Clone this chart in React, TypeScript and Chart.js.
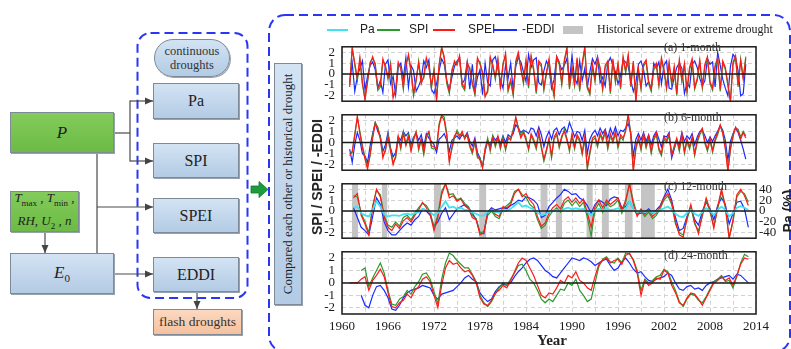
import React, { useEffect, useRef } from "react";
import { Chart, registerables } from "chart.js";

Chart.register(...registerables);

// ---------- axis values ----------
const YEAR_MIN = 1960;
const YEAR_MAX = 2014;
const yearTickLabels = [1960, 1966, 1972, 1978, 1984, 1990, 1996, 2002, 2008, 2014];
const yearGridLines = [1960, 1963, 1966, 1969, 1972, 1975, 1978, 1981, 1984, 1987, 1990, 1993, 1996, 1999, 2002, 2005, 2008, 2011, 2014];
const indexTicks = [-2, -1, 0, 1, 2];
const paTicks = [-40, -20, 0, 20, 40];

// ---------- historical severe or extreme droughts (years) ----------
const droughtStart = [1961.3, 1965.2, 1972.0, 1977.9, 1985.9, 1987.9, 1991.9, 1993.9, 1996.9, 1999.0];
const droughtEnd = [1962.1, 1965.9, 1972.9, 1978.8, 1986.8, 1988.7, 1992.7, 1994.8, 1997.9, 2000.8];

// ---------- (a) 1-month: 3 samples / year from 1961.0 ----------
const start1 = 1961;
const step1 = 1 / 3;
const spei1 = [
  -1.2, 2.3, 1.0, -0.4, 1.5, -0.8, -2.4, -0.6, 0.9, 1.6, 0.8, -1.3, -1.0, 1.4, 0.6,
  -0.3, 0.8, -2.2, -1.4, 1.1, 0.5, -1.2, 0.7, 1.8, 0.4, -1.8, -0.5, 1.0, -0.9, -0.2,
  1.5, 0.6, -1.1, 0.3, -2.5, 0.9, 2.4, 1.6, -0.7, -1.6, 0.2, 1.2, 0.8, 1.7, -0.9,
  -1.3, 1.1, 0.4, -0.8, -1.7, 1.5, 0.9, 0.2, -2.1, -1.5, 1.6, 0.7, -0.3, 1.4, -1.2,
  0.8, 1.9, -1.4, -0.5, -1.8, 1.2, 2.0, 0.4, -0.7, 1.3, -1.1, 1.7, 0.5, -1.6, 1.2,
  0.9, -1.3, 0.2, 1.4, -0.6, -1.9, 1.6, 1.1, -0.8, 1.3, 2.3, -1.2, 0.7, -0.9, 1.5,
  -1.4, 1.0, 2.5, -1.1, -1.7, 0.9, -0.5, 1.5, 0.6, -1.3, 0.8, 1.2, -1.6, 1.4, -0.6,
  1.0, -1.2, 1.6, 0.3, 1.8, -1.0, 1.2, -2.6, 0.5, -1.2, 0.9, 1.3, -0.7, -1.4, 0.6,
  1.0, -0.9, 1.5, 0.4, -1.2, 1.1, -0.8, 0.7, -1.8, 1.3, -0.5, 1.0, -1.5, 0.6, 1.4,
  -1.2, -0.4, 1.3, -1.1, 0.9, 1.6, -0.7, -1.3, 0.8, 1.5, -1.4, 1.2, 0.6, -0.9, -2.6,
  1.1, 1.7, -1.0, 1.2, -0.5, 1.4,
];
const spi1 = [
  -1.0, 2.5, 0.8, -0.6, 1.3, -1.0, -2.2, -0.8, 1.1, 1.4, 1.0, -1.5, -1.2, 1.2, 0.8,
  -0.5, 1.0, -2.0, -1.6, 0.9, 0.7, -1.4, 0.9, 1.6, 0.2, -2.0, -0.7, 1.2, -0.7, -0.4,
  1.3, 0.8, -1.3, 0.5, -2.3, 0.7, 2.5, 1.4, -0.9, -1.8, 0.4, 1.0, 1.0, 1.5, -1.1,
  -1.5, 0.9, 0.6, -1.0, -1.9, 1.3, 1.1, 0.0, -2.0, -1.7, 1.4, 0.9, -0.5, 1.2, -1.4,
  1.0, 1.7, -1.6, -0.7, -2.0, 1.0, 1.8, 0.6, -0.9, 1.1, -1.3, 1.5, 0.3, -1.8, 1.0,
  0.7, -1.5, 0.0, 1.2, -0.8, -2.1, 1.4, 0.9, -1.0, 1.1, 2.5, -1.4, 0.5, -1.1, 1.3,
  -1.6, 0.8, 2.3, -1.3, -1.9, 0.7, -0.7, 1.3, 0.4, -1.5, 0.6, 1.0, -1.8, 1.2, -0.8,
  0.8, -1.4, 1.4, 0.1, 1.6, -1.2, 1.0, -2.4, 0.3, -1.4, 0.7, 1.1, -0.9, -1.6, 0.4,
  0.8, -1.1, 1.3, 0.2, -1.4, 0.9, -1.0, 0.5, -2.0, 1.1, -0.7, 0.8, -1.7, 0.4, 1.2,
  -1.4, -0.6, 1.1, -1.3, 0.7, 1.4, -0.9, -1.5, 0.6, 1.3, -1.6, 1.0, 0.4, -1.1, -2.4,
  0.9, 1.5, -1.2, 1.4, -0.3, 1.6,
];
const eddi1 = [
  -0.8, 1.0, -1.6, -0.2, 0.5, 1.2, -1.5, -0.2, 0.8, 1.1, 0.4, -1.3, -0.6, -1.7, 0.9,
  1.3, -0.9, -0.2, -1.9, 0.6, 1.0, -0.4, 1.5, -1.2, 0.8, 0.3, -1.6, -1.1, -0.5, 1.2,
  0.6, 1.3, -1.4, -1.8, -0.9, 0.3, 1.4, 0.9, -0.6, -1.5, -0.3, 0.7, 1.2, 1.5, -0.9,
  -0.5, 1.1, -1.4, 0.9, -1.7, -0.3, 0.4, -1.9, 1.0, -0.8, -1.1, 1.3, 1.6, 0.5, -0.6,
  -1.3, 0.8, -0.4, 1.0, -1.5, 0.7, 1.5, 1.1, 0.2, -0.7, 1.8, 0.6, 1.3, 1.5, -0.8,
  -1.0, 0.3, 1.2, 0.7, -1.3, -0.5, 1.6, 1.0, 0.4, 0.8, 1.4, -0.7, 1.7, -0.4, -0.9,
  1.2, -0.6, 0.5, -1.2, 0.2, 1.4, 0.9, 1.6, -0.8, -0.3, -1.1, 1.0, 1.5, 0.8, 0.2,
  -0.9, -0.2, 1.3, 1.1, 0.7, -0.6, -1.6, -0.8, 0.9, 1.2, 0.4, -1.1, -0.7, -1.4, 1.0,
  0.5, 1.1, -0.9, 0.8, 1.2, -1.3, -1.4, -0.3, 0.6, 1.0, 0.5, -1.8, -0.8, -1.2, 0.9,
  1.2, 0.6, -0.4, -1.1, -0.6, 1.4, 0.9, 1.1, -1.2, 2.0, 0.8, -0.5, -1.3, -2.0, 0.7,
  1.8, 1.5, 0.3, -2.0, -1.8, 0.9,
];

// ---------- (b) 6-month: 3 samples / year from 1961.0 ----------
const start6 = 1961;
const step6 = 1 / 3;
const spei6 = [
  -1.2, -0.8, 0.6, 2.4, 0.8, -0.5, -1.5, -2.4, -1.0, 0.4, 1.7, 1.2, 0.3, -1.4, -0.6,
  0.5, -0.8, -2.0, -1.2, 0.6, -0.4, 0.8, -0.3, 0.5, -0.8, 0.2, 0.9, -0.5, 0.4, -0.9,
  0.6, 1.0, -0.3, -0.4, -0.6, 1.5, 2.4, 2.0, 0.6, -1.8, -0.4, 0.6, 0.9, 0.5, 1.0,
  0.3, 0.8, -0.2, -0.8, 0.2, -1.2, -1.6, -2.3, -0.5, 0.2, -0.6, 0.4, -0.2, 0.6, -0.4,
  0.3, -0.5, 0.5, 0.2, 1.0, 2.3, 1.2, 0.4, 0.9, 0.2, -0.5, 0.8, 0.3, -0.4, 1.0,
  -0.3, -1.5, -0.6, 0.4, -1.2, 0.5, 0.9, -0.3, 0.6, 1.0, 0.2, -0.6, 0.8, -0.4, 0.7,
  0.3, -0.9, 0.5, -2.2, -0.8, 0.4, 0.6, -0.2, 0.9, 0.3, 1.1, -0.4, 0.8, 0.2, 1.0,
  -0.3, 0.7, 0.4, 1.0, 2.5, 0.6, -2.6, -0.4, 0.5, -0.5, 0.8, -0.3, 0.6, -0.8, 0.4,
  0.9, -0.5, -1.0, 0.5, 0.2, 0.8, -1.2, -0.3, 0.4, -0.6, 0.8, -0.8, 0.3, -0.4, 0.5,
  -1.0, 0.2, 0.9, 1.3, 0.1, -0.6, 0.4, -0.7, 0.3, 0.9, 1.6, 0.8, -0.6, -2.6, -0.5,
  0.5, 1.4, 1.0, 0.3, 0.9, 0.4,
];
const spi6 = [
  -1.0, -0.9, 0.8, 2.2, 1.0, -0.3, -1.3, -2.2, -1.2, 0.6, 1.8, 1.4, 0.5, -1.2, -0.8,
  0.7, -0.6, -1.8, -1.4, 0.4, -0.6, 1.0, -0.1, 0.7, -0.6, 0.4, 1.0, -0.7, 0.2, -1.1,
  0.4, 0.9, -0.5, -0.6, -0.4, 1.7, 2.5, 2.3, 0.8, -1.6, -0.6, 0.4, 1.1, 0.7, 0.8,
  0.5, 0.6, -0.4, -1.0, 0.0, -1.4, -1.4, -2.1, -0.7, 0.4, -0.8, 0.6, -0.4, 0.4, -0.6,
  0.5, -0.7, 0.3, 0.4, 1.2, 2.2, 1.4, 0.6, 1.1, 0.4, -0.7, 0.6, 0.1, -0.6, 0.8,
  -0.5, -1.7, -0.8, 0.2, -1.4, 0.3, 0.7, -0.5, 0.4, 1.2, 0.4, -0.8, 0.6, -0.6, 0.5,
  0.1, -1.1, 0.3, -2.4, -1.0, 0.2, 0.4, -0.4, 0.7, 0.1, 0.9, -0.6, 0.6, 0.0, 0.8,
  -0.5, 0.5, 0.2, 1.2, 2.5, 0.8, -2.4, -0.6, 0.3, -0.7, 0.6, -0.5, 0.4, -1.0, 0.2,
  0.7, -0.7, -1.2, 0.3, 0.0, 0.6, -1.0, -0.5, 0.2, -0.8, 0.6, -1.0, 0.1, -0.6, 0.3,
  -1.2, 0.0, 0.7, 1.1, -0.1, -0.8, 0.2, -0.9, 0.1, 0.7, 1.5, 0.9, -0.4, -2.5, -0.7,
  0.7, 1.3, 1.2, 0.5, 1.0, 0.6,
];
const eddi6 = [
  -0.6, -1.8, -0.2, 0.9, 0.2, -1.0, -1.2, -1.8, -0.3, 0.8, 1.8, 1.0, 0.6, -0.8, -0.2,
  0.9, -0.5, -1.3, -0.9, 0.5, 0.2, 1.0, 0.6, 0.9, -0.2, 0.5, 0.8, 0.2, 0.7, -0.4,
  0.8, 0.4, 0.1, -0.2, -0.9, 0.3, 0.5, 0.8, 0.2, -0.8, 0.2, 0.4, 0.6, 0.3, 0.7,
  0.5, 0.9, 0.1, -0.3, 0.4, -0.9, -1.4, -2.2, -0.8, 0.1, -0.3, 0.6, 0.2, 0.5, -0.1,
  0.6, 0.0, 0.7, 0.5, 0.8, 1.6, 1.3, 0.9, 1.1, 1.0, 0.8, 1.3, 1.2, 0.6, 1.4,
  0.7, -0.4, 0.5, 1.0, 0.3, 1.1, 1.3, 0.7, 1.2, 1.4, 0.9, 1.8, 1.2, 0.5, 1.0,
  0.9, 0.2, 1.1, -1.0, 0.3, 0.8, 1.1, 0.6, 1.3, 0.8, 1.2, 0.4, 1.3, 0.7, 1.4,
  0.6, 1.1, 1.0, 1.3, 1.7, 0.9, -1.2, 0.3, 0.8, 0.2, 0.9, 0.1, 0.7, -0.2, 0.6,
  1.0, 0.3, -0.4, 0.6, 0.5, 0.9, -1.4, -0.6, 0.2, -0.2, 0.9, 0.1, 0.6, 0.3, 0.8,
  -0.2, 0.5, 1.0, 1.1, 0.6, 0.0, 0.5, 0.1, 0.6, 1.0, 1.5, 1.1, 0.2, -1.6, 0.1,
  0.8, 1.3, 0.9, 0.2, -0.6, -1.5,
];

// ---------- (c) 12-month: 2 samples / year from 1961.0 ----------
const start12 = 1961;
const step12 = 0.5;
const spei12 = [
  null, 1.2, 1.6, -0.4, -1.2, -2.2, 0.3, 2.0, 1.3, -0.6, -1.5, -1.8, -1.2, -1.6,
  -0.9, -0.6, -1.0, -0.4, 0.1, 0.8, 0.3, -0.3, -1.8, -0.6, 1.5, 2.5, 1.2, 1.4,
  0.9, 1.1, 0.5, 0.2, -0.6, -0.8, -2.2, -2.0, -0.2, 0.2, -0.3, -0.5, 0.4, 0.3,
  0.6, 1.6, 2.0, 1.3, 1.6, 1.0, 0.6, -0.5, -1.4, -1.1, -0.2, 0.3, 0.6, 0.2,
  1.0, 1.3, 0.8, 1.2, 0.7, 1.1, -0.2, -1.5, 0.4, 1.0, 0.3, 1.0, 0.6, 0.9,
  1.2, 0.1, 1.0, 2.5, 0.6, -0.5, 0.2, -0.3, 0.1, -0.5, -0.2, 0.4, 1.2, 1.6,
  0.8, -1.0, -2.2, -2.4, -0.6, 0.6, -1.0, -2.1, -0.3, 1.2, 0.1, -1.6, 0.4, 2.0,
  0.5, -2.5, -0.8, 1.5, 2.0, 1.4, 0.5,
];
const spi12 = [
  null, 1.4, 1.3, -0.2, -1.0, -2.0, 0.5, 1.9, 1.5, -0.4, -1.3, -1.5, -1.0, -1.4,
  -0.6, -0.4, -0.8, -0.2, 0.3, 0.7, 0.5, -0.1, -1.5, -0.4, 1.8, 2.5, 1.5, 1.6,
  1.0, 1.2, 0.7, 0.4, -0.4, -0.7, -2.0, -1.9, -0.4, 0.0, -0.5, -0.7, 0.2, 0.5,
  0.8, 1.8, 2.0, 1.5, 1.3, 0.6, 0.3, -0.8, -1.6, -1.3, -0.5, 0.0, 0.3, -0.1,
  0.7, 1.0, 0.5, 0.9, 0.4, 0.8, -0.6, -2.3, 0.1, 0.7, -0.1, 0.8, 0.4, 0.6,
  1.0, -0.2, 0.8, 2.5, 0.9, -0.3, 0.0, -0.5, -0.1, -0.7, -0.4, 0.2, 1.0, 1.4,
  0.6, -1.2, -2.0, -2.2, -0.8, 0.4, -1.2, -1.8, -0.5, 1.0, -0.1, -1.4, 0.2, 1.8,
  0.3, -2.5, -1.0, 1.3, 1.8, 1.6, 0.8,
];
const eddi12 = [
  null, 0.3, -0.6, -1.5, -1.8, -2.2, -0.5, 1.2, 0.6, -1.0, -1.8, -2.2, -2.2, -1.8,
  -1.4, -1.1, -1.3, -0.8, -0.5, 0.2, 0.0, -0.4, -1.4, -1.0, -0.2, 0.3, -0.8, -0.3,
  0.2, 0.4, 0.6, 0.3, -0.2, -0.8, -2.0, -2.1, -0.1, 0.3, 0.1, 0.2, 0.3, 0.2,
  0.5, 0.7, 1.0, 0.9, 1.3, 1.2, 1.0, 0.6, -0.6, -0.4, 0.4, 0.8, 1.2, 1.5,
  2.0, 1.8, 1.5, 1.6, 1.2, 1.0, 0.5, -0.2, 0.6, 1.0, 0.8, 0.5, 1.1, 1.3,
  1.2, 0.3, 0.4, 0.9, 0.2, -0.3, -0.2, -0.1, 0.2, -0.2, 0.1, 0.5, 1.3, 2.0,
  1.0, -0.6, -1.8, -1.6, -0.5, 0.3, -0.8, -1.3, 0.0, 0.8, 0.2, -0.8, 0.5, 1.2,
  0.6, -1.2, -0.2, 0.8, 0.9, 0.2, -1.5,
];
const pa12 = [
  null, 6, 8, -4, -8, -10, 2, 18, 8, -6, -10, -8, -8, -9,
  -6, -5, -7, -4, -2, 4, 2, -2, -8, -4, 8, 18, 6, 8,
  4, 6, 2, 1, -3, -5, -9, -8, -2, 1, -2, -3, 2, 1,
  4, 10, 16, 8, 10, 6, 3, -3, -8, -6, -2, 1, 2, 0,
  4, 6, 3, 5, 3, 4, -2, -8, 1, 4, 1, 4, 2, 3,
  5, 0, 4, 18, 4, -2, 0, -2, 0, -3, -1, 2, 5, 8,
  3, -5, -10, -11, -4, 2, -5, -9, -2, 5, 0, -7, 2, 8,
  2, -10, -4, 6, 9, 6, 2,
];

// ---------- (d) 24-month: 2 samples / year from 1961.0 ----------
const start24 = 1961;
const step24 = 0.5;
const spei24 = [
  0, 0, 0, 0.3, 0.5, -0.6, 0.2, 0.6, 1.1, 0.5, -0.8, -1.9, -2.0, -1.6,
  -1.4, -0.9, -1.2, -0.6, -0.3, 0.3, 0.5, 0.1, -1.0, -2.0, -0.2, 1.2, 1.8, 1.5,
  1.6, 1.2, 0.9, 1.0, 0.6, 0.0, -1.2, -1.7, -1.8, -1.4, -0.8, -0.6, -0.2, -0.4,
  0.2, 0.9, 1.6, 2.0, 1.8, 1.2, 0.6, -0.2, -1.0, -1.2, -0.8, -0.9, -0.4, 0.2,
  0.0, 0.6, 0.4, 0.9, 0.2, 0.0, -0.4, -0.6, 0.5, 1.5, 1.8, 2.0, 1.6, 1.8,
  1.9, 1.5, 2.2, 2.4, 1.8, 0.8, -1.0, 0.2, -0.2, 0.0, 0.4, 0.3, 1.0, 0.8,
  -0.2, -0.8, -1.6, -1.8, -1.2, -0.8, -0.9, -1.3, -1.8, -1.2, -0.6, 0.0, 0.2, 0.5,
  0.2, 0.4, -0.2, 0.6, 1.5, 2.0, 1.9,
];
const spi24 = [
  null, null, null, 1.0, 1.2, -0.3, 0.4, 1.0, 1.6, 0.8, -0.6, -1.7, -1.8, -1.3,
  -1.1, -0.6, -0.9, -0.3, 0.1, 0.7, 0.8, 0.3, -0.7, -1.7, 0.3, 1.6, 2.4, 2.2,
  1.8, 1.5, 1.2, 1.2, 0.7, 0.1, -1.0, -1.6, -1.9, -1.5, -0.9, -0.4, 0.0, -0.2,
  0.3, 0.8, 1.4, 1.5, 1.0, 0.3, 0.0, -0.6, -1.3, -1.6, -1.3, -1.5, -1.0, -0.5,
  -0.6, 0.0, -0.2, 0.3, -0.6, -1.0, -1.5, -1.3, 0.0, 1.3, 1.9, 2.1, 1.7, 1.6,
  2.0, 1.6, 2.4, 2.3, 1.9, 1.0, -0.6, 0.3, 0.0, 0.2, 0.5, 0.6, 1.1, 0.9,
  0.1, -0.6, -1.5, -1.9, -1.3, -0.9, -1.0, -1.4, -1.6, -1.1, -0.5, 0.1, 0.3, 0.6,
  0.1, 0.2, -0.4, 0.5, 1.6, 2.3, 2.1,
];
const eddi24 = [
  null, null, null, -1.0, -1.8, -2.0, -1.0, -0.3, -0.2, -0.6, -1.2, -2.1, -2.2, -1.8,
  -1.2, -0.8, -0.6, -0.5, -0.4, -0.2, -0.3, -0.4, -1.0, -1.3, -0.9, -0.8, -0.7, -0.6,
  -0.3, 0.0, 0.4, 0.6, 0.3, 0.1, -0.8, -1.2, -1.5, -1.3, -0.7, -0.3, -0.1, -0.2,
  0.0, 0.5, 0.9, 1.2, 1.6, 1.9, 2.0, 1.8, 1.4, 1.0, 0.8, 0.5, 0.4, 0.8,
  1.2, 1.6, 2.0, 1.9, 1.8, 2.0, 1.9, 1.7, 1.4, 1.6, 1.8, 1.9, 1.4, 1.0,
  1.2, 1.7, 2.0, 1.6, 1.1, 0.8, 0.9, 0.5, 0.2, 0.1, 0.3, 0.4, 0.5, 0.8,
  0.6, 0.0, -0.5, -0.6, -0.3, -0.2, -0.5, -0.4, -0.6, -0.2, 0.0, 0.1, 0.3, 0.4,
  0.5, 0.6, 0.3, 0.7, 0.6, 0.3, 0.0,
];

// ---------- styling ----------
const SERIF = "'Liberation Serif', 'Times New Roman', serif";
const SANS = "'Liberation Sans', Arial, sans-serif";
const CYAN = "#3fe3f0";
const GREEN = "#2c992c";
const RED = "#ff1a1a";
const BLUE = "#1a2bff";
const GRID = "#d2d2d2";

const PANEL_TOP = [40, 108, 177, 245];
const PANEL_H = [68, 69, 68, 69];
const PAD = 8;
const CANVAS_LEFT = 300;
const CANVAS_W = 491;

type Panel = {
  label: string;
  start: number;
  step: number;
  spi: (number | null)[];
  spei: (number | null)[];
  eddi: (number | null)[];
  pa?: (number | null)[];
};

const panels: Panel[] = [
  { label: "(a) 1-month", start: start1, step: step1, spi: spi1, spei: spei1, eddi: eddi1 },
  { label: "(b) 6-month", start: start6, step: step6, spi: spi6, spei: spei6, eddi: eddi6 },
  { label: "(c) 12-month", start: start12, step: step12, spi: spi12, spei: spei12, eddi: eddi12, pa: pa12 },
  { label: "(d) 24-month", start: start24, step: step24, spi: spi24, spei: spei24, eddi: eddi24 },
];

const series = (start: number, step: number, vals: (number | null)[]) =>
  vals.map((v, i) => ({ x: start + i * step, y: v }));

const decorPlugin = {
  id: "decor",
  beforeDatasetsDraw(chart: any, _args: any, opts: any) {
    const { ctx, chartArea: a, scales } = chart;
    if (opts && opts.bars) {
      ctx.save();
      ctx.fillStyle = "#c4c4c4";
      droughtStart.forEach((s, i) => {
        const x1 = scales.x.getPixelForValue(s);
        const x2 = scales.x.getPixelForValue(droughtEnd[i]);
        ctx.fillRect(x1, a.top, x2 - x1, a.bottom - a.top);
      });
      ctx.restore();
    }
  },
  afterDatasetsDraw(chart: any) {
    const { ctx, chartArea: a, scales } = chart;
    const y0 = scales.y.getPixelForValue(0);
    ctx.save();
    ctx.strokeStyle = "#1a1a1a";
    ctx.lineWidth = 1.5;
    ctx.beginPath();
    ctx.moveTo(a.left, y0);
    ctx.lineTo(a.right, y0);
    ctx.stroke();
    ctx.restore();
  },
  afterDraw(chart: any) {
    const { ctx, chartArea: a } = chart;
    ctx.save();
    ctx.strokeStyle = "#1a1a1a";
    ctx.lineWidth = 1.5;
    ctx.strokeRect(a.left, a.top, a.right - a.left, a.bottom - a.top);
    ctx.restore();
  },
};

function makeConfig(p: Panel, idx: number): any {
  const isLast = idx === panels.length - 1;
  const hasPa = !!p.pa;
  const datasets: any[] = [];
  if (p.pa) {
    datasets.push({ label: "Pa", data: series(p.start, p.step, p.pa), borderColor: CYAN, borderWidth: 1.8, yAxisID: "y2" });
  }
  datasets.push({ label: "SPEI", data: series(p.start, p.step, p.spei), borderColor: RED, borderWidth: 1.2, yAxisID: "y" });
  datasets.push({ label: "SPI", data: series(p.start, p.step, p.spi), borderColor: GREEN, borderWidth: 1.2, yAxisID: "y" });
  datasets.push({ label: "-EDDI", data: series(p.start, p.step, p.eddi), borderColor: BLUE, borderWidth: 1.2, yAxisID: "y" });

  const tickFont = { family: SERIF, size: 13 };
  const scales: any = {
    x: {
      type: "linear",
      min: YEAR_MIN,
      max: YEAR_MAX,
      afterBuildTicks: (s: any) => {
        s.ticks = yearGridLines.map((v) => ({ value: v }));
      },
      afterFit: (s: any) => {
        s.height = isLast ? 30 : 0;
      },
      ticks: {
        display: isLast,
        autoSkip: false,
        maxRotation: 0,
        padding: 5,
        font: tickFont,
        color: "#1a1a1a",
        callback: (v: any) => (yearTickLabels.includes(Number(v)) ? String(v) : ""),
      },
      grid: { color: GRID, lineWidth: 1, drawTicks: false },
      border: { display: false, dash: [4, 3] },
    },
    y: {
      position: "left",
      min: -2.5,
      max: 2.5,
      afterBuildTicks: (s: any) => {
        s.ticks = indexTicks.map((v) => ({ value: v }));
      },
      afterFit: (s: any) => {
        s.width = 42;
      },
      ticks: { font: tickFont, color: "#1a1a1a", padding: 7, autoSkip: false },
      grid: { color: GRID, lineWidth: 1, drawTicks: false },
      border: { display: false, dash: [4, 3] },
    },
  };
  if (hasPa) {
    scales.y2 = {
      position: "right",
      min: -50,
      max: 50,
      afterBuildTicks: (s: any) => {
        s.ticks = paTicks.map((v) => ({ value: v }));
      },
      afterFit: (s: any) => {
        s.width = 35;
      },
      ticks: { font: tickFont, color: "#1a1a1a", padding: 3, autoSkip: false },
      grid: { display: false, drawTicks: false },
      border: { display: false },
    };
  }

  return {
    type: "line",
    data: { datasets },
    plugins: [decorPlugin],
    options: {
      animation: false,
      responsive: false,
      maintainAspectRatio: false,
      layout: { padding: { top: PAD, bottom: isLast ? 0 : PAD, left: 0, right: hasPa ? 0 : 35 } },
      elements: { point: { radius: 0 }, line: { tension: 0, fill: false } },
      plugins: {
        legend: { display: false },
        tooltip: { enabled: false },
        decor: { bars: hasPa },
      },
      scales,
    },
  };
}

const ChartPanel = ({ p, idx }: { p: Panel; idx: number }) => {
  const ref = useRef<HTMLCanvasElement | null>(null);
  const isLast = idx === panels.length - 1;
  const h = PANEL_H[idx] + PAD + (isLast ? 30 : PAD);
  useEffect(() => {
    if (!ref.current) return;
    const chart = new Chart(ref.current, makeConfig(p, idx));
    return () => chart.destroy();
  }, []);
  return (
    <canvas
      ref={ref}
      width={CANVAS_W}
      height={h}
      style={{ position: "absolute", left: CANVAS_LEFT, top: PANEL_TOP[idx] - PAD, width: CANVAS_W, height: h }}
    />
  );
};

const BLUE_BOX = "linear-gradient(180deg, #d3e3f3 0%, #b3cbe5 100%)";
const GREEN_BOX = "linear-gradient(180deg, #84cb5b 0%, #6cbb45 100%)";
const PEACH_BOX = "linear-gradient(180deg, #fbd9c0 0%, #f5c19f 100%)";

const Box = (props: any) => {
  const { left, top, w, h, bg, radius = 0, children, style } = props;
  return (
    <div
      style={{
        position: "absolute",
        left,
        top,
        width: w,
        height: h,
        boxSizing: "border-box",
        background: bg,
        border: "1px solid #7e8a98",
        borderRadius: radius,
        boxShadow: "1px 1px 0 #98a2ad",
        display: "flex",
        alignItems: "center",
        justifyContent: "center",
        textAlign: "center",
        fontFamily: SERIF,
        color: "#222",
        ...style,
      }}
    >
      {children}
    </div>
  );
};

const Txt = (props: any) => {
  const { left, top, children, style } = props;
  return (
    <div style={{ position: "absolute", left, top, whiteSpace: "nowrap", ...style }}>{children}</div>
  );
};

export default function App() {
  const LINE = "#4a4a4a";
  return (
    <div
      style={{
        position: "fixed",
        left: 0,
        top: 0,
        width: 791,
        height: 349,
        overflow: "hidden",
        background: "#fff",
        fontFamily: SERIF,
      }}
    >
      <svg width={791} height={349} style={{ position: "absolute", left: 0, top: 0 }}>
        <defs>
          <marker id="ah" markerWidth="8" markerHeight="8" refX="8" refY="4" orient="auto" markerUnits="userSpaceOnUse">
            <path d="M0,0.5 L8,4 L0,7.5 z" fill="#444" />
          </marker>
        </defs>
        {/* dashed frames */}
        <rect x={137.5} y={33} width={110} height={265} rx={13} fill="none" stroke="#2a37f2" strokeWidth={2} strokeDasharray="9 5" />
        <rect x={269} y={15} width={521} height={337} rx={16} fill="none" stroke="#2a37f2" strokeWidth={2} strokeDasharray="9 5" />
        {/* connectors */}
        <line x1={114} y1={133} x2={130} y2={133} stroke={LINE} strokeWidth={1.2} />
        <line x1={130} y1={100.5} x2={130} y2={161.5} stroke={LINE} strokeWidth={1.2} />
        <line x1={130} y1={101} x2={153} y2={101} stroke={LINE} strokeWidth={1.2} markerEnd="url(#ah)" />
        <line x1={130} y1={161} x2={153} y2={161} stroke={LINE} strokeWidth={1.2} markerEnd="url(#ah)" />
        <line x1={97} y1={153} x2={97} y2={253} stroke={LINE} strokeWidth={1.2} />
        <line x1={97} y1={207} x2={153} y2={207} stroke={LINE} strokeWidth={1.2} markerEnd="url(#ah)" />
        <line x1={45} y1={232} x2={45} y2={253} stroke={LINE} strokeWidth={1.2} markerEnd="url(#ah)" />
        <line x1={114} y1={274} x2={153} y2={274} stroke={LINE} strokeWidth={1.2} markerEnd="url(#ah)" />
        <line x1={197} y1={291} x2={197} y2={309} stroke={LINE} strokeWidth={1.2} markerEnd="url(#ah)" />
        {/* green arrow */}
        <polygon
          points="251,186 259,186 259,181.5 268,189.5 259,197.5 259,193 251,193"
          fill="#1c9c3c"
          stroke="#137a2c"
          strokeWidth={0.8}
        />
      </svg>

      {/* flowchart boxes */}
      <Box left={154} top={39} w={76} h={38} bg={BLUE_BOX} radius={19} style={{ fontSize: 12.5, lineHeight: "14px", color: "#333" }}>
        continuous
        <br />
        droughts
      </Box>
      <Box left={153} top={83} w={86} h={36} bg={BLUE_BOX} style={{ fontSize: 16 }}>Pa</Box>
      <Box left={153} top={143} w={86} h={35} bg={BLUE_BOX} style={{ fontSize: 16 }}>SPI</Box>
      <Box left={153} top={198} w={86} h={35} bg={BLUE_BOX} style={{ fontSize: 16 }}>SPEI</Box>
      <Box left={153} top={257} w={86} h={35} bg={BLUE_BOX} style={{ fontSize: 16 }}>EDDI</Box>
      <Box left={153} top={309} w={89} h={26} bg={PEACH_BOX} style={{ fontSize: 13.5, color: "#333" }}>flash droughts</Box>
      <Box left={10} top={112} w={104} h={41} bg={GREEN_BOX} style={{ fontSize: 17, fontStyle: "italic" }}>P</Box>
      <Box left={10} top={191} w={69} h={41} bg={GREEN_BOX} style={{ fontSize: 13, fontStyle: "italic", lineHeight: "17px" }}>
        <div>
          T<sub style={{ fontStyle: "normal", fontSize: 9 }}>max</sub> , T<sub style={{ fontStyle: "normal", fontSize: 9 }}>min</sub> ,
          <br />
          RH, U<sub style={{ fontStyle: "normal", fontSize: 9 }}>2</sub> , n
        </div>
      </Box>
      <Box left={10} top={253} w={104} h={41} bg={BLUE_BOX} style={{ fontSize: 17, fontStyle: "italic" }}>
        <span>
          E<sub style={{ fontStyle: "normal", fontSize: 11 }}>0</sub>
        </span>
      </Box>
      <Box left={274} top={63} w={28} h={242} bg={BLUE_BOX} style={{ fontSize: 13, color: "#222" }}>
        <span style={{ transform: "rotate(-90deg)", whiteSpace: "nowrap", display: "inline-block" }}>
          Compared each other or historical drought
        </span>
      </Box>

      {/* charts */}
      {panels.map((p, i) => (
        <ChartPanel key={p.label} p={p} idx={i} />
      ))}

      {/* legend */}
      <div style={{ position: "absolute", left: 327, top: 29, width: 21, height: 2, background: CYAN }} />
      <Txt left={360} top={22} style={{ fontFamily: SANS, fontSize: 12, color: "#222" }}>Pa</Txt>
      <div style={{ position: "absolute", left: 377, top: 29, width: 23, height: 2, background: GREEN }} />
      <Txt left={409} top={22} style={{ fontFamily: SANS, fontSize: 12, color: "#222" }}>SPI</Txt>
      <div style={{ position: "absolute", left: 433, top: 29, width: 22, height: 2, background: RED }} />
      <Txt left={468} top={22} style={{ fontFamily: SANS, fontSize: 12, color: "#222" }}>SPEI</Txt>
      <div style={{ position: "absolute", left: 494, top: 29, width: 23, height: 2, background: BLUE }} />
      <Txt left={522} top={22} style={{ fontFamily: SANS, fontSize: 12, color: "#222" }}>-EDDI</Txt>
      <div style={{ position: "absolute", left: 563, top: 26, width: 20, height: 8, background: "#c4c4c4" }} />
      <Txt left={597} top={22} style={{ fontFamily: SERIF, fontSize: 12, color: "#222" }}>Historical severe or extreme drought</Txt>

      {/* panel labels */}
      {panels.map((p, i) => (
        <Txt key={"lbl" + i} left={664} top={[40, 110, 179, 248][i]} style={{ fontFamily: SERIF, fontSize: 12, color: "#333" }}>
          {p.label}
        </Txt>
      ))}

      {/* axis titles */}
      <div
        style={{
          position: "absolute",
          left: 317,
          top: 177,
          transform: "translate(-50%, -50%) rotate(-90deg)",
          whiteSpace: "nowrap",
          fontFamily: SANS,
          fontWeight: "bold",
          fontSize: 14,
          color: "#222",
        }}
      >
        SPI / SPEI / -EDDI
      </div>
      <div
        style={{
          position: "absolute",
          left: 788,
          top: 211,
          transform: "translate(-50%, -50%) rotate(-90deg)",
          whiteSpace: "nowrap",
          fontFamily: SANS,
          fontWeight: "bold",
          fontSize: 14,
          color: "#222",
        }}
      >
        Pa (%)
      </div>
      <Txt left={537} top={332} style={{ fontFamily: SERIF, fontWeight: "bold", fontSize: 15, color: "#222" }}>Year</Txt>
    </div>
  );
}
